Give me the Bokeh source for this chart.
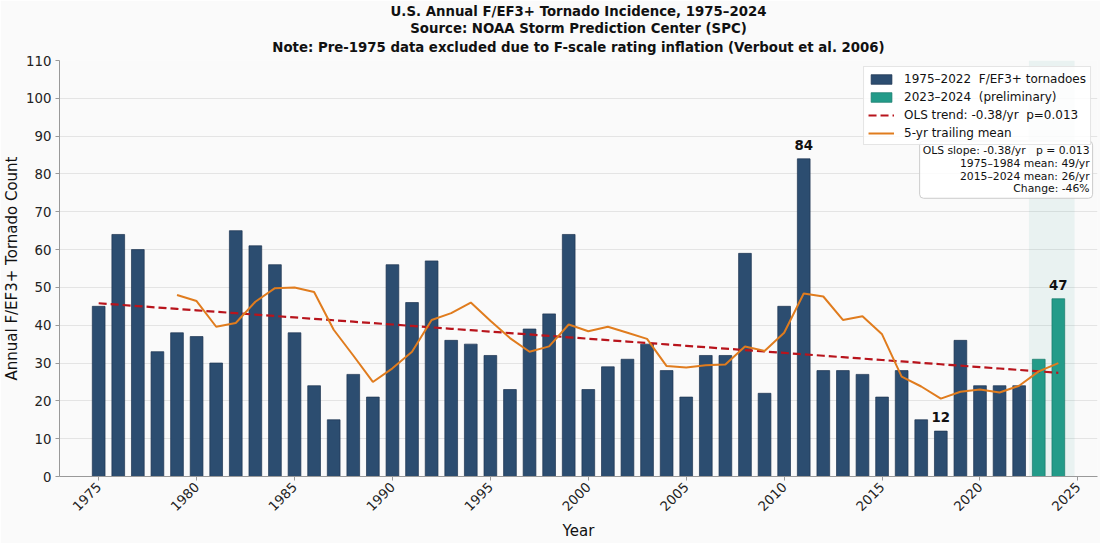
import math
import numpy as np
import pandas as pd
from bokeh.plotting import figure
from bokeh.models import (ColumnDataSource, Range1d, BoxAnnotation, Label, Legend,
                          LegendItem, Title, FixedTicker)
from bokeh.core.properties import value
from bokeh.embed import file_html
from bokeh.resources import INLINE

# ---------------- data ----------------
years = list(range(1975, 2025))
counts = [45, 64, 60, 33, 38, 37, 30, 65, 61, 56,
          38, 24, 15, 27, 21, 56, 46, 57, 36, 35,
          32, 23, 39, 43, 64, 23, 29, 31, 35, 28,
          21, 32, 32, 59, 22, 45, 84, 28, 28, 27,
          21, 28, 15, 12, 36, 24, 24, 24, 31, 47]
prelim_years = [2023, 2024]
annotated_years = [2011, 2018, 2024]
x_ticks = [1975, 1980, 1985, 1990, 1995, 2000, 2005, 2010, 2015, 2020, 2025]
y_ticks = [0, 10, 20, 30, 40, 50, 60, 70, 80, 90, 100, 110]

title_lines = [
    "U.S. Annual F/EF3+ Tornado Incidence, 1975\u20132024",
    "Source: NOAA Storm Prediction Center (SPC)",
    "Note: Pre-1975 data excluded due to F-scale rating inflation (Verbout et al. 2006)",
]
legend_labels = [
    "1975\u20132022 \u00a0F/EF3+ tornadoes",
    "2023\u20132024 \u00a0(preliminary)",
    "OLS trend: -0.38/yr \u00a0p=0.013",
    "5-yr trailing mean",
]
stats_lines = [
    "OLS slope: -0.38/yr \u00a0\u00a0p = 0.013",
    "1975\u20131984 mean: 49/yr",
    "2015\u20132024 mean: 26/yr",
    "Change: -46%",
]
x_label = "Year"
y_label = "Annual F/EF3+ Tornado Count"

# ---------------- styles / layout constants ----------------
FONT = "DejaVu Sans"
BG = "#fafafa"
NAVY = "#2c4d70"
NAVY_EDGE = "#1c3350"
TEAL = "#239b89"
TEAL_EDGE = "#17786a"
RED = "#b8141c"
ORANGE = "#e07c1e"
AXIS = "#999999"
X0, X1 = 1973, 2026
Y0, Y1 = 0, 110
SHADE_L, SHADE_R = 2022.5, 2024.83
STATS_X, STATS_Y = 2025.75, 88.7

# ---------------- derived series ----------------
main_x = [y for y in years if y not in prelim_years]
main_top = [c for y, c in zip(years, counts) if y not in prelim_years]
pre_x = [y for y in years if y in prelim_years]
pre_top = [c for y, c in zip(years, counts) if y in prelim_years]

coef = np.polyfit(years, counts, 1)
trend = np.polyval(coef, years)
roll = pd.Series(counts, index=years).rolling(5).mean().dropna()

ann_x = annotated_years
ann_y = [counts[years.index(y)] for y in annotated_years]
ann_t = [str(v) for v in ann_y]

# ---------------- figure ----------------
p = figure(width=1100, height=543, output_backend="svg", toolbar_location=None,
           x_range=Range1d(X0, X1), y_range=Range1d(Y0, Y1),
           min_border_left=59, min_border_right=3, min_border_top=60,
           min_border_bottom=66,
           background_fill_color=BG, border_fill_color=BG)
p.outline_line_color = None

# title: three centred lines; the first added sits closest to the frame
for i, line in enumerate(reversed(title_lines)):
    p.add_layout(Title(text=line, align="center", text_font=FONT,
                       text_font_size="13.3px", text_font_style="bold",
                       text_color="#111111",
                       vertical_align="top" if i == 0 else "bottom",
                       standoff=8 if i == 0 else 0), "above")

# preliminary shading
p.add_layout(BoxAnnotation(left=SHADE_L, right=SHADE_R, fill_color=TEAL,
                           fill_alpha=0.08, line_color=None, level="underlay"))

r_main = p.vbar(x=main_x, top=main_top, width=0.65, fill_color=NAVY,
                line_color=NAVY_EDGE, line_width=0.7)
r_pre = p.vbar(x=pre_x, top=pre_top, width=0.65, fill_color=TEAL,
               line_color=TEAL_EDGE, line_width=0.7)
r_trend = p.line(years, trend, line_color=RED, line_width=2.2, line_dash="8 4")
r_mean = p.line(list(roll.index), list(roll.values), line_color=ORANGE,
                line_width=2)

src_ann = ColumnDataSource(dict(x=ann_x, y=ann_y, t=ann_t))
p.text(x="x", y="y", text="t", source=src_ann, text_align="center",
       text_baseline="bottom", y_offset=-9, text_font=value(FONT),
       text_font_size="13.3px", text_font_style="bold", text_color="#111111")

# axes
p.xaxis.ticker = FixedTicker(ticks=x_ticks)
p.yaxis.ticker = FixedTicker(ticks=y_ticks)
p.xaxis.major_label_orientation = math.pi / 4
for ax in (p.xaxis, p.yaxis):
    ax.minor_tick_line_color = None
    ax.major_tick_in = 0
    ax.major_tick_out = 4
    ax.axis_line_color = AXIS
    ax.major_tick_line_color = AXIS
    ax.major_label_text_font = FONT
    ax.major_label_text_font_size = "13.3px"
    ax.major_label_text_color = "#222222"
    ax.axis_label_text_font = FONT
    ax.axis_label_text_font_size = "15px"
    ax.axis_label_text_font_style = "normal"
    ax.axis_label_text_color = "#111111"
p.xaxis.axis_label = x_label
p.yaxis.axis_label = y_label
p.yaxis.major_label_standoff = 4
p.yaxis.axis_label_standoff = 2
p.xaxis.major_label_standoff = 4
p.xaxis.axis_label_standoff = 4

p.xgrid.visible = False
p.ygrid.grid_line_color = "#e4e4e4"
p.ygrid.grid_line_width = 1

legend = Legend(items=[
    LegendItem(label=legend_labels[0], renderers=[r_main]),
    LegendItem(label=legend_labels[1], renderers=[r_pre]),
    LegendItem(label=legend_labels[2], renderers=[r_trend]),
    LegendItem(label=legend_labels[3], renderers=[r_mean]),
], location="top_right")
legend.label_text_font = FONT
legend.label_text_font_size = "12px"
legend.label_text_color = "#111111"
legend.glyph_width = 26
legend.glyph_height = 12
legend.label_height = 15
legend.label_standoff = 10
legend.spacing = 3
legend.padding = 4
legend.margin = 6
legend.border_line_color = "#cccccc"
legend.background_fill_color = "white"
legend.background_fill_alpha = 0.85
p.add_layout(legend)

stats = Label(x=STATS_X, y=STATS_Y, text="\n".join(stats_lines), text_align="right",
              text_baseline="top", text_font=FONT, text_font_size="10.8px",
              text_color="#111111", text_line_height=0.98,
              background_fill_color="white", background_fill_alpha=0.85,
              border_line_color="#cccccc", padding=3, border_radius=4)
p.add_layout(stats)

html = file_html(p, INLINE)
html = html.replace("<body>", '<body style="background-color:#fafafa;">', 1)
open("out.html", "w").write(html)
